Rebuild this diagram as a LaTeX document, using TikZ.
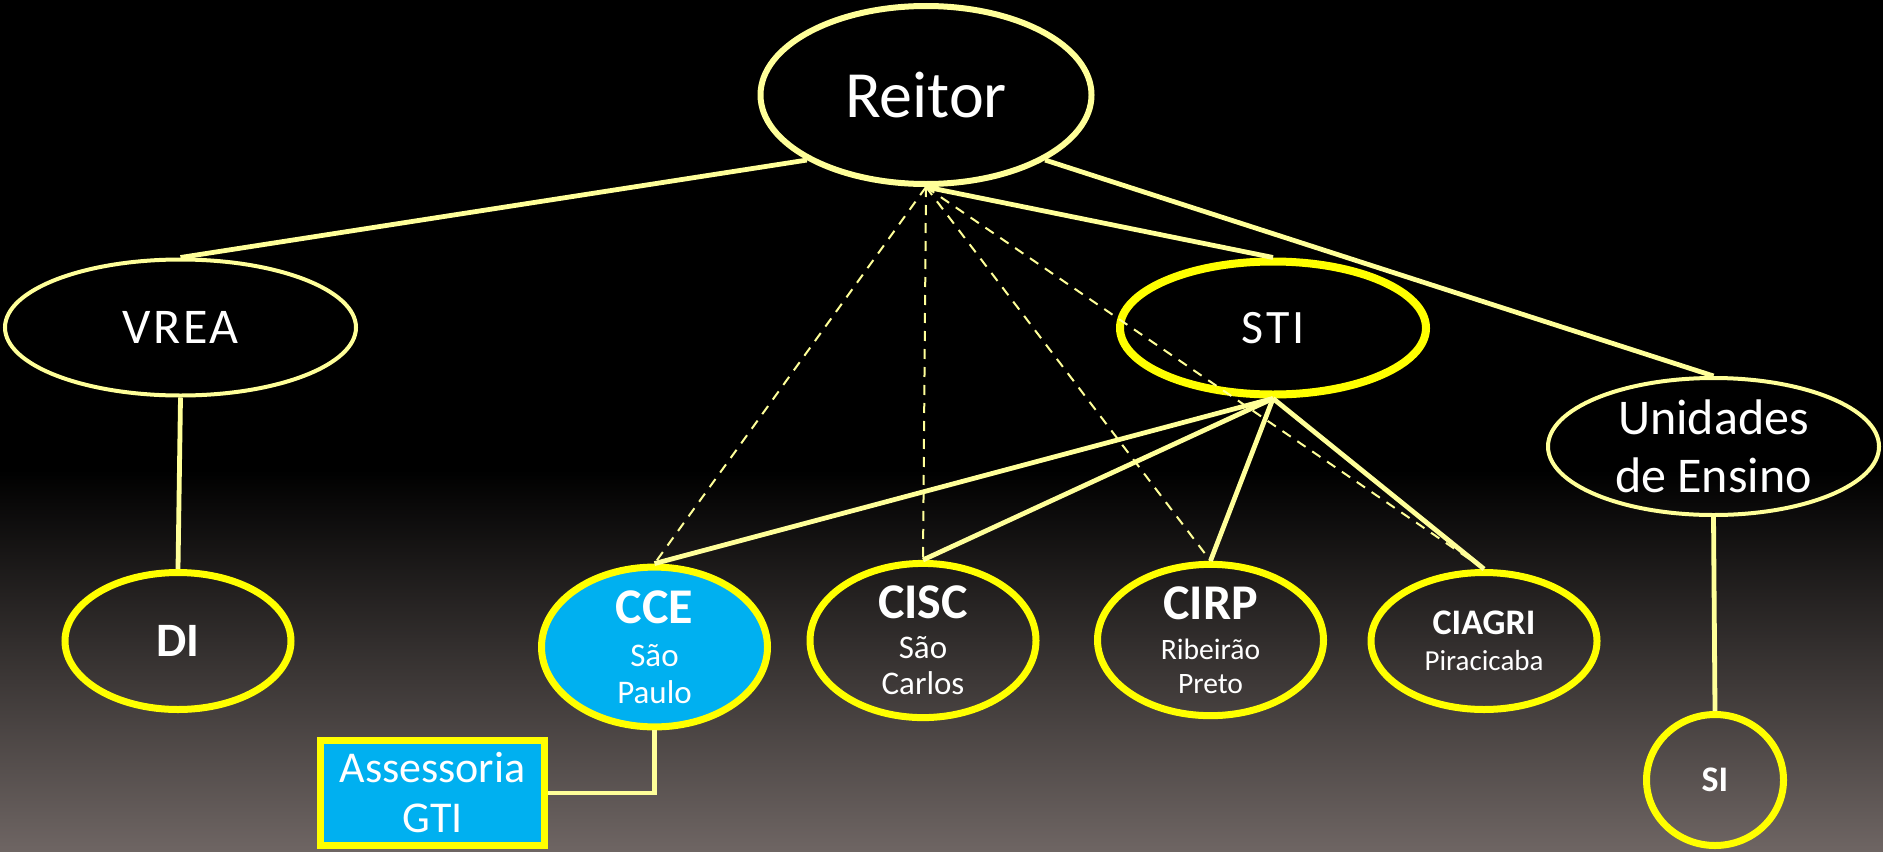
\documentclass[tikz,border=0pt]{standalone}
\usepackage{fontspec}
\setmainfont{Carlito}
\usetikzlibrary{shapes.geometric}
\definecolor{ysoft}{RGB}{255,255,153}
\definecolor{ybright}{RGB}{255,255,0}
\definecolor{ccefill}{RGB}{0,176,240}
\definecolor{bgbottom}{RGB}{110,101,99}

\begin{document}
\begin{tikzpicture}[x=0.5pt,y=-0.5pt,
  headoval/.style={ellipse,draw=ysoft,line width=2pt,inner sep=0pt,text=white,align=center},
  unitoval/.style={ellipse,draw=ybright,line width=3.5pt,inner sep=0pt,text=white,align=center,
    minimum width=113pt,minimum height=68.5pt},
  link/.style={draw=ysoft,line width=2.4pt},
  dotlink/.style={draw=ysoft,line width=1pt,dash pattern=on 5pt off 4pt}]
\useasboundingbox (0,0) rectangle (1883,851);
\fill[black] (0,0) rectangle (1883,472);
\shade[top color=black,bottom color=bgbottom] (0,470) rectangle (1883,851);
% top levels
\node[headoval,line width=3pt,minimum width=165.5pt,minimum height=89pt,
  font=\fontsize{33}{36}\selectfont] (reitor) at (926,95) {Reitor};
\node[headoval,minimum width=175.5pt,minimum height=68pt,
  font=\fontsize{25}{28}\selectfont\addfontfeature{LetterSpace=5}] (vrea) at (180.5,327.5) {VREA};
\node[headoval,draw=ybright,line width=4pt,minimum width=153pt,minimum height=66.5pt,
  font=\fontsize{24}{28}\selectfont\addfontfeature{LetterSpace=7}] (sti) at (1273,328) {STI};
\node[headoval,minimum width=165.5pt,minimum height=68.5pt,
  font=\fontsize{25}{29}\selectfont] (ensino) at (1713.5,446.5) {Unidades\\de Ensino};
% units
\node[unitoval,font=\fontsize{24}{28}\selectfont\bfseries] (di) at (178,641) {DI};
\node[unitoval,fill=ccefill,font=\fontsize{16.5}{18.5}\selectfont] (cce) at (654.5,647)
  {{\fontsize{25}{25}\selectfont\bfseries CCE}\\[3pt]São\\Paulo};
\node[unitoval,font=\fontsize{16.5}{18}\selectfont] (cisc) at (923,640.5)
  {{\fontsize{25}{25}\selectfont\bfseries CISC}\\[2pt]São\\Carlos};
\node[unitoval,font=\fontsize{14.8}{17}\selectfont] (cirp) at (1210.5,640)
  {{\fontsize{25}{25}\selectfont\bfseries CIRP}\\[3pt]Ribeirão\\Preto};
\node[unitoval,font=\fontsize{14.5}{18}\selectfont] (ciagri) at (1484,641)
  {{\fontsize{18}{18}\selectfont\bfseries CIAGRI}\\Piracicaba};
\node[unitoval,minimum width=68.5pt,minimum height=65.5pt,
  font=\fontsize{18}{20}\selectfont\bfseries] (si) at (1715,780) {SI};
\node[draw=ybright,fill=ccefill,line width=3.5pt,inner sep=0pt,text=white,align=center,
  minimum width=112pt,minimum height=52.5pt,font=\fontsize{22}{25}\selectfont]
  (gti) at (432.5,793) {Assessoria\\GTI};
% connectors
\draw[link] (reitor.south west) -- (vrea.north);
\draw[link] (reitor.south) -- (sti.north);
\draw[link] (reitor.south east) -- (ensino.north);
\draw[link] (vrea.south) -- (di.north);
\draw[link] (ensino.south) -- (si.north);
\foreach \c in {cce,cisc,cirp,ciagri} {
  \draw[link] (sti.south) -- (\c.north);
  \draw[dotlink] (reitor.south) -- (\c.north);
}
\draw[link] (cce.south) |- (gti.east);
\end{tikzpicture}
\end{document}
